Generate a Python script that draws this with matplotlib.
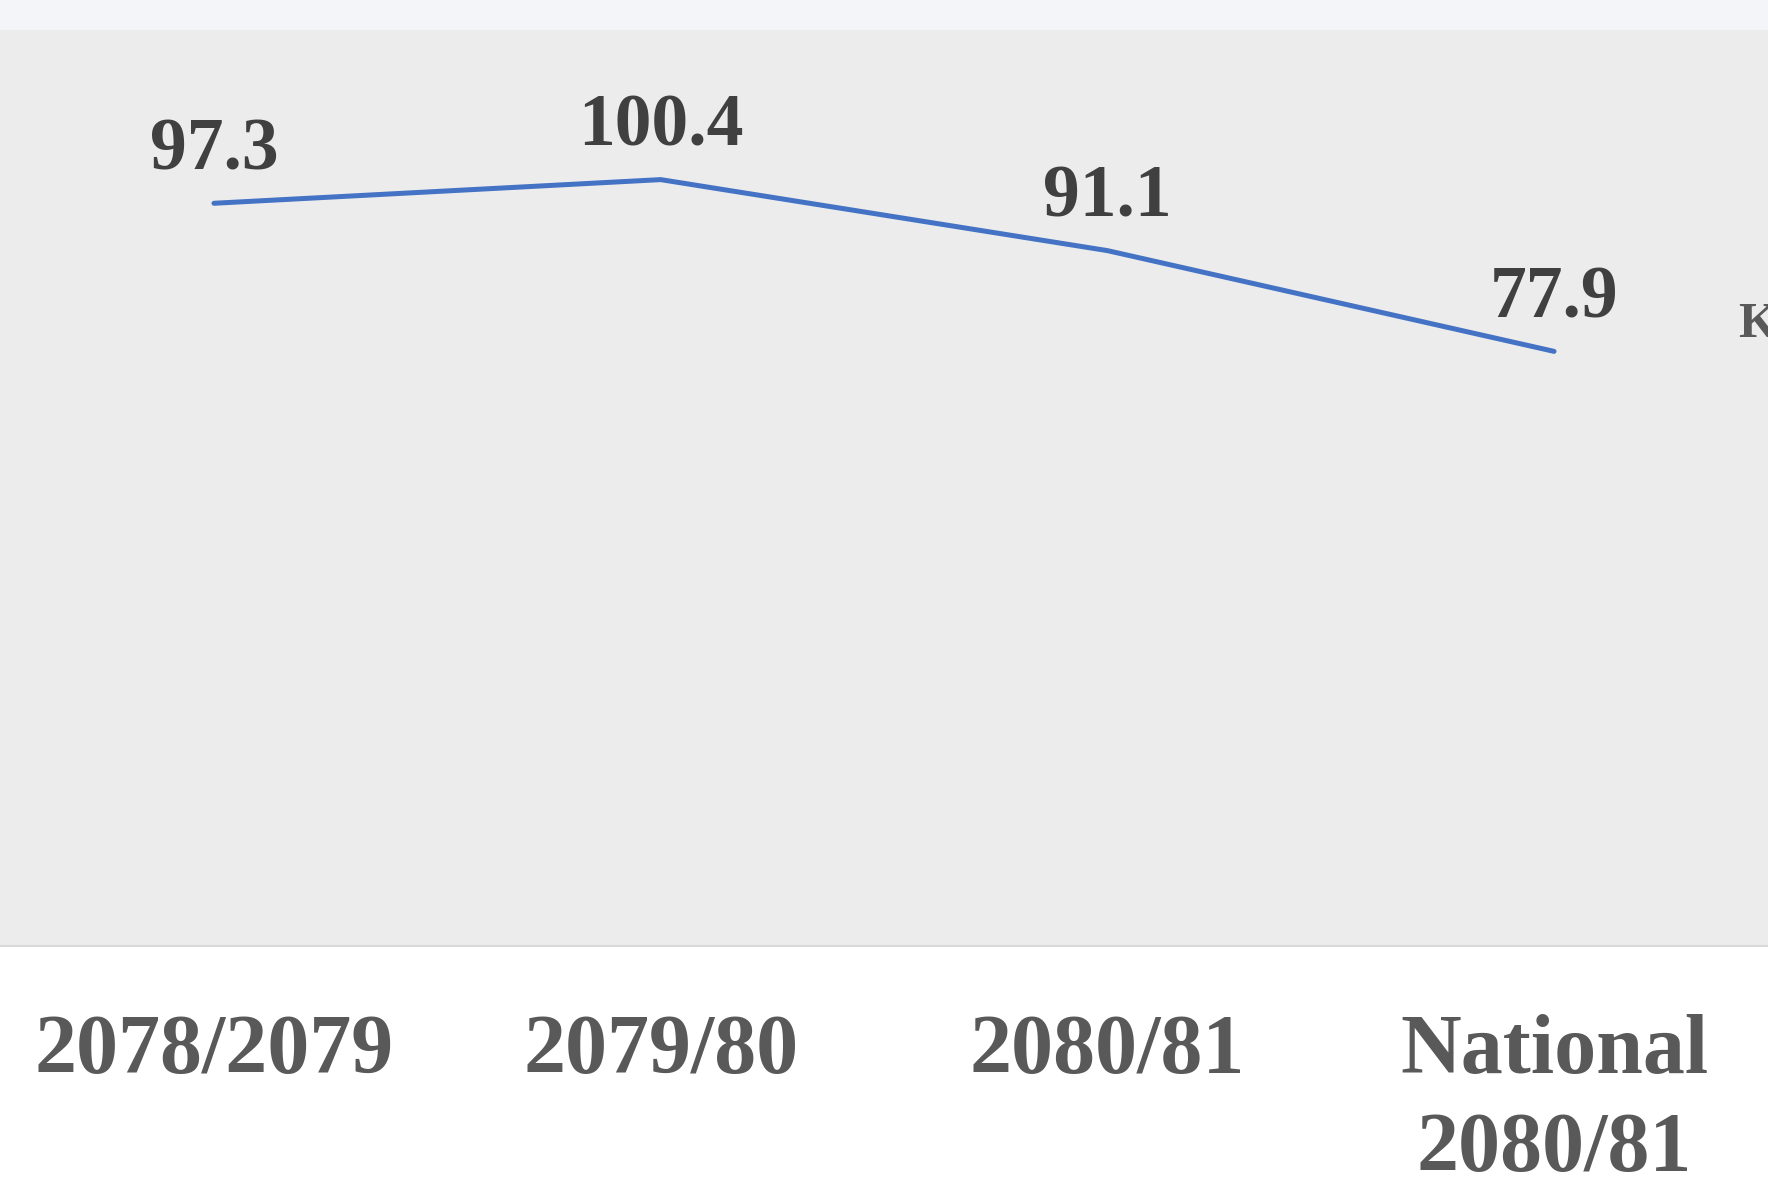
import matplotlib.pyplot as plt
from matplotlib.patches import Rectangle

categories = ["2078/2079", "2079/80", "2080/81", "National\n2080/81"]
values = [97.3, 100.4, 91.1, 77.9]
legend_fragment = "K"

W, H = 1768, 1185
fig = plt.figure(figsize=(W / 100, H / 100), dpi=100, facecolor="white")
serif = ["Liberation Serif", "DejaVu Serif"]

# top strip
fig.patches.append(Rectangle((0, 1 - 30 / H), 1, 30 / H, transform=fig.transFigure,
                             facecolor="#F4F5F9", edgecolor="none", zorder=0))

ax = fig.add_axes([0, (H - 946) / H, 1, (946 - 30) / H])
ax.set_facecolor("#ECECEC")
x = list(range(len(categories)))
ax.plot(x, values, color="#4472C4", lw=3.6, solid_capstyle="round", solid_joinstyle="round")
ax.set_xlim(-0.479, 3.479)
ax.set_ylim(0, 120)

for xi, v in zip(x, values):
    ax.annotate(f"{v:.1f}", (xi, v), xytext=(0, 24.5), textcoords="offset points",
                ha="center", va="baseline", fontsize=53, fontweight="bold",
                family=serif, color="#404040")

ax.set_xticks(x)
ax.set_xticklabels(categories, fontsize=60.5, fontweight="bold", family=serif,
                   color="#595959", linespacing=1.36)
ax.tick_params(axis="x", length=0, pad=49)
ax.set_yticks([])
for s in ["top", "left", "right"]:
    ax.spines[s].set_visible(False)
ax.spines["bottom"].set_color("#D9D9D9")
ax.spines["bottom"].set_linewidth(1.5)

fig.text(1738 / W, 1 - 337 / H, legend_fragment, ha="left", va="baseline",
         fontsize=36, fontweight="bold", family=serif, color="#595959")

fig.savefig("out.png", dpi=100, facecolor=fig.get_facecolor())
